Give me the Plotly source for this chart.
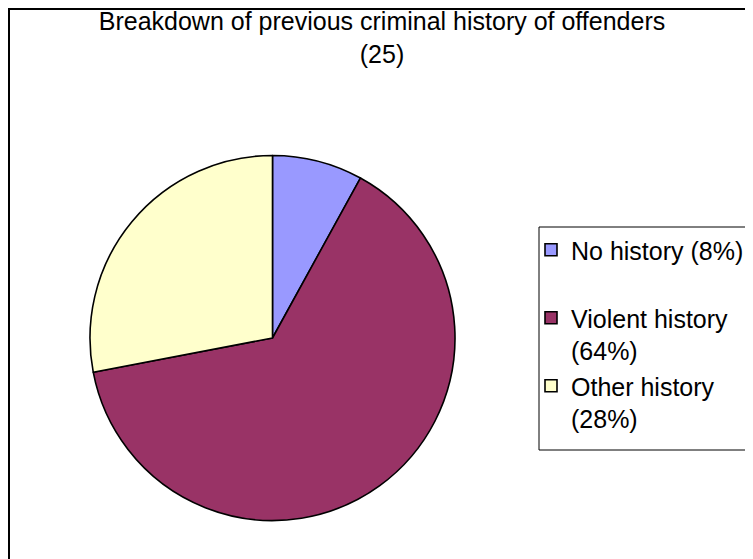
import plotly.graph_objects as go

W, H = 753, 559
OFF = 8  # page body margin in the browser shifts the figure by 8px

categories = ["No history (8%)", "Violent history<br>(64%)", "Other history<br>(28%)"]
counts = [2, 16, 7]
colors = ["#9999FF", "#993366", "#FFFFCC"]
title_lines = ["Breakdown of previous criminal history of offenders", "(25)"]

# equalise legend entry heights (Excel gives each entry the same slot)
legend_labels = [categories[0] + "<br>\u00a0"] + categories[1:]

FONT = "Liberation Sans, Arial, sans-serif"


def px(x):
    return (x - OFF) / W


def py(y):
    return 1 - (y - OFF) / H


fig = go.Figure()
fig.add_trace(go.Pie(
    labels=legend_labels,
    values=counts,
    sort=False,
    direction="clockwise",
    rotation=0,
    marker=dict(colors=colors, line=dict(color="black", width=1.6)),
    textinfo="none",
    hoverinfo="skip",
    domain=dict(x=[px(90), px(455)], y=[py(521), py(155)]),
))

fig.update_layout(
    width=W, height=H,
    margin=dict(l=0, r=0, t=0, b=0),
    paper_bgcolor="white",
    plot_bgcolor="white",
    font=dict(family=FONT, color="black"),
    title=dict(
        text="<br>".join(title_lines),
        x=px(382), xanchor="center",
        y=py(30), yanchor="top",
        font=dict(family=FONT, size=25, color="black"),
    ),
    legend=dict(
        x=px(531), xanchor="left",
        y=py(227), yanchor="top",
        borderwidth=0,
        bgcolor="rgba(0,0,0,0)",
        font=dict(family=FONT, size=25, color="black"),
        valign="top",
        traceorder="normal",
    ),
    shapes=[
        dict(
            type="rect", xref="paper", yref="paper",
            x0=px(9), x1=1.1, y0=-0.1, y1=py(9),
            line=dict(color="black", width=2),
            fillcolor="rgba(0,0,0,0)",
            layer="below",
        ),
        dict(
            type="rect", xref="paper", yref="paper",
            x0=px(539), x1=1.1, y0=py(450), y1=py(227),
            line=dict(color="black", width=1),
            fillcolor="white",
            layer="below",
        ),
    ],
)

fig.write_html("out.html")
